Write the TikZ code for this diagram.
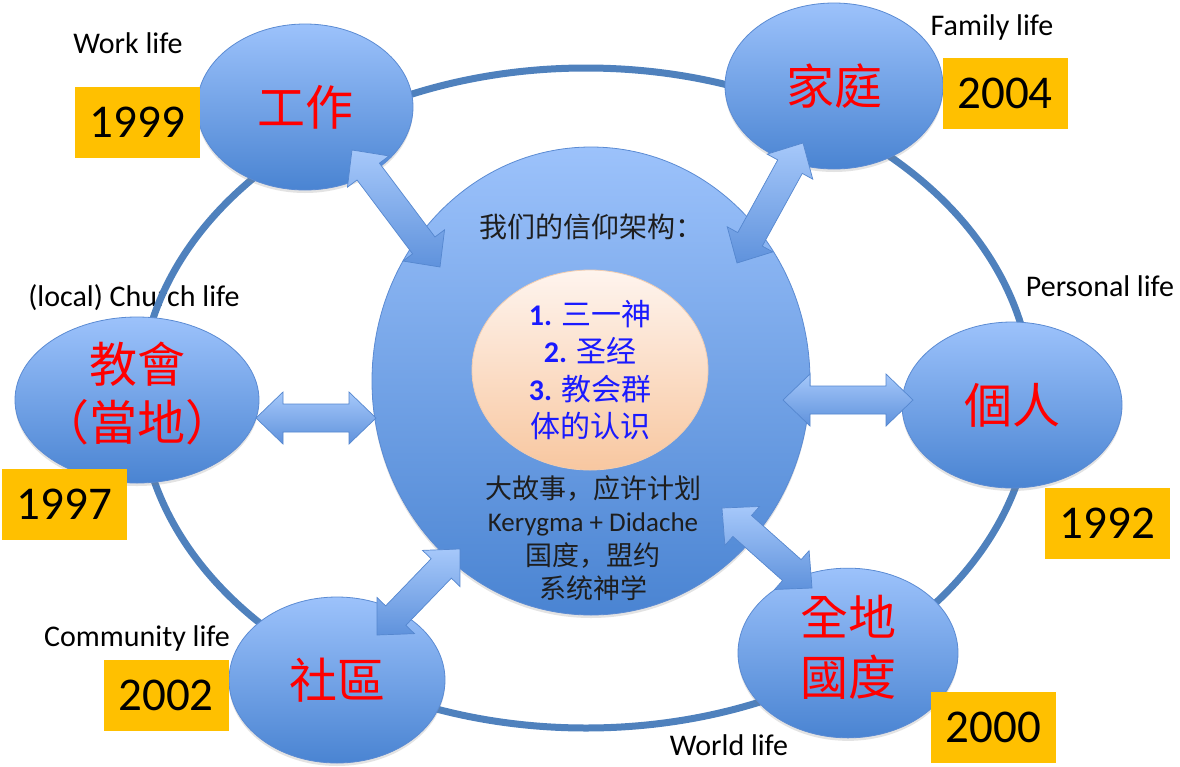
\documentclass[tikz,border=0pt]{standalone}
\usepackage{fontspec}
\setmainfont{Carlito}
\newfontfamily\latf{Carlito}
\newfontfamily\cjksc{Noto Sans CJK SC}
\newfontfamily\cjktc{Noto Sans CJK TC}
\usetikzlibrary{shapes.geometric,calc,shadows}
\definecolor{ringblue}{HTML}{4F81BD}
\definecolor{ellTop}{HTML}{9CC2FB}
\definecolor{ellBot}{HTML}{4A84D2}
\definecolor{ellLine}{HTML}{5B8BD3}
\definecolor{arrTop}{HTML}{A6C8FA}
\definecolor{arrBot}{HTML}{5F92DC}
\definecolor{arrLine}{HTML}{5587CF}
\definecolor{peachTop}{HTML}{FEF4EE}
\definecolor{peachBot}{HTML}{F8C7A0}
\definecolor{peachLine}{HTML}{F2CDB0}
\definecolor{yearOrange}{HTML}{FFC000}
\definecolor{lblRed}{HTML}{FF0000}
\definecolor{lblBlue}{HTML}{1A1AFF}
\definecolor{darkText}{HTML}{1E1E1E}
\tikzset{
  lifeell/.style={ellipse, draw=ellLine, line width=0.8pt, top color=ellTop, bottom color=ellBot,
    inner sep=0pt, minimum height=166pt, text=lblRed,
    font=\cjktc\fontsize{48}{58}\selectfont,
    drop shadow={opacity=0.22, shadow xshift=0pt, shadow yshift=-3pt}},
  lifelabel/.style={inner sep=0pt, text=black, font=\latf\fontsize{30}{36}\selectfont},
  yearbox/.style={fill=yearOrange, inner sep=0pt, minimum width=125pt, minimum height=71pt,
    text=black, font=\latf\fontsize{47}{56}\selectfont},
  blockarrow/.style={draw=arrLine, line width=0.7pt, top color=arrTop, bottom color=arrBot},
  ringline/.style={draw=ringblue, line width=7pt},
}
\newcommand\lifearrow[2]{%
  \path[blockarrow] (#1)
    -- ($(#1)!27pt!(#2)!26pt!90:(#2)$)
    -- ($(#1)!27pt!(#2)!14pt!90:(#2)$)
    -- ($(#2)!27pt!(#1)!14pt!-90:(#1)$)
    -- ($(#2)!27pt!(#1)!26pt!-90:(#1)$)
    -- (#2)
    -- ($(#2)!27pt!(#1)!26pt!90:(#1)$)
    -- ($(#2)!27pt!(#1)!14pt!90:(#1)$)
    -- ($(#1)!27pt!(#2)!14pt!-90:(#2)$)
    -- ($(#1)!27pt!(#2)!26pt!-90:(#2)$)
    -- cycle;}
\begin{document}
\begin{tikzpicture}[x=1pt,y=-1pt]
\useasboundingbox (0,0) rectangle (1180,766);
\fill[white] (0,0) rectangle (1180,766);

% English labels
\node[lifelabel] (lWork) at (128,43) {Work life};
\node[lifelabel] (lFamily) at (992,27) {Family life};
\node[lifelabel] (lChurch) at (134,298) {(local) Church life};
\node[lifelabel] (lPersonal) at (1100,286) {Personal life};
\node[lifelabel] (lCommunity) at (137,638) {Community life};
\node[lifelabel] (lWorld) at (729,745) {World life};

% outer ring
\draw[ringline] (586,398) ellipse [x radius=446pt, y radius=330pt];

% central circle
\node[ellipse, draw=ellLine, line width=0.8pt, top color=ellTop, bottom color=ellBot,
  inner sep=0pt, minimum width=438pt, minimum height=468pt,
  drop shadow={opacity=0.22, shadow xshift=0pt, shadow yshift=-3pt}] (core) at (591,381) {};
\node[inner sep=0pt, text=darkText, font=\cjksc\fontsize{28}{34}\selectfont] (title) at (591,227) {我们的信仰架构：};
\node[ellipse, draw=peachLine, line width=0.8pt, top color=peachTop, bottom color=peachBot,
  inner sep=0pt, minimum width=236pt, minimum height=200pt] (faith) at (590,370) {};
\node[inner sep=0pt, align=center, text=lblBlue, font=\cjksc\fontsize{30}{37.3}\selectfont] (faithtxt) at (faith.center)
  {{\latf\bfseries 1.} 三一神\\{\latf\bfseries 2.} 圣经\\{\latf\bfseries 3.} 教会群\\体的认识};
\node[inner sep=0pt, align=center, text=darkText, font=\cjksc\fontsize{27}{33.3}\selectfont] (story) at (593,538)
  {大故事，应许计划\\{\latf Kerygma + Didache}\\国度，盟约\\系统神学};

% life ellipses
\node[lifeell, minimum width=216pt] (work) at (305,107) {工作};
\node[lifeell, minimum width=218pt] (family) at (834,86) {家庭};
\node[lifeell, minimum width=244pt] (church) at (137,400)
  {\makebox[0pt]{\begin{tabular}{@{}c@{}}教會\\（當地）\end{tabular}}};
\node[lifeell, minimum width=220pt] (personal) at (1012,405) {個人};
\node[lifeell, minimum width=216pt] (community) at (337,680) {社區};
\node[lifeell, minimum width=220pt, font=\cjktc\fontsize{48}{60}\selectfont] (world) at (848,653)
  {\makebox[0pt]{\begin{tabular}{@{}c@{}}全地\\國度\end{tabular}}};

% block arrows
\coordinate (w1) at (352,150); \coordinate (w2) at (440,267);
\coordinate (f1) at (803,143); \coordinate (f2) at (737,263);
\coordinate (c1) at (256,418); \coordinate (c2) at (376,418);
\coordinate (p1) at (783,400); \coordinate (p2) at (913,400);
\coordinate (m1) at (377,635); \coordinate (m2) at (460,549);
\coordinate (d1) at (722,508); \coordinate (d2) at (812,588);
\lifearrow{w1}{w2}
\lifearrow{f1}{f2}
\lifearrow{c1}{c2}
\lifearrow{p1}{p2}
\lifearrow{m1}{m2}
\lifearrow{d1}{d2}

% year boxes
\node[yearbox] (y1999) at (137.5,122.5) {1999};
\node[yearbox] (y2004) at (1005,93.5) {2004};
\node[yearbox] (y1997) at (64.5,504.5) {1997};
\node[yearbox] (y1992) at (1107.5,523) {1992};
\node[yearbox] (y2002) at (166,695.5) {2002};
\node[yearbox] (y2000) at (993.5,727) {2000};
\end{tikzpicture}
\end{document}
